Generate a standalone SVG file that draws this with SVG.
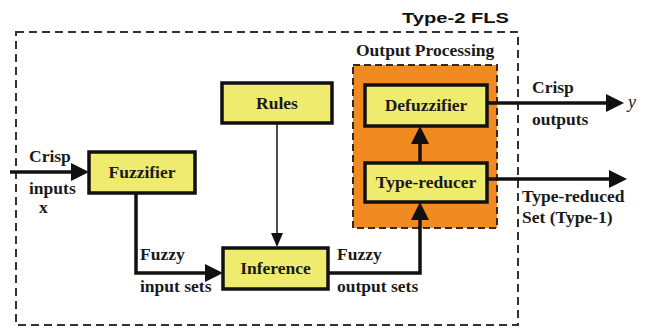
<svg xmlns="http://www.w3.org/2000/svg" width="646" height="328" viewBox="0 0 646 328">
  <style>
    .lbl { font-family: "Liberation Serif", "Times New Roman", serif; font-weight: bold; font-size: 17.5px; fill: #1a1a1a; }
    .box { fill: #efeb6f; stroke: #111; stroke-width: 3.5; }
    .wire { fill: none; stroke: #111; stroke-width: 3.5; }
    .thin { fill: none; stroke: #222; stroke-width: 1.6; }
    .frame { fill: none; stroke: #333; stroke-width: 2; stroke-dasharray: 8 5; }
  </style>
  <defs>
    <marker id="head" markerUnits="userSpaceOnUse" markerWidth="18" markerHeight="18" refX="2" refY="9" orient="auto">
      <path d="M0,0 L18,9 L0,18 z" fill="#111"/>
    </marker>
    <marker id="headSmall" markerUnits="userSpaceOnUse" markerWidth="14" markerHeight="12" refX="2" refY="6" orient="auto">
      <path d="M0,0 L14,6 L0,12 z" fill="#111"/>
    </marker>
  </defs>
  <rect width="646" height="328" fill="#ffffff"/>

  <!-- system boundary -->
  <rect class="frame" x="16" y="32" width="502" height="293"/>
  <text x="402" y="23" font-family="'Liberation Sans', Arial, sans-serif" font-weight="bold" font-size="15.5" textLength="107" lengthAdjust="spacingAndGlyphs" fill="#111">Type-2 FLS</text>

  <!-- output processing block -->
  <g id="output-processing">
    <rect x="353" y="65" width="144" height="163" fill="#f28a22" stroke="#3a2a1a" stroke-width="2" stroke-dasharray="7 4"/>
    <text class="lbl" x="356" y="56">Output Processing</text>
  </g>

  <!-- connectors -->
  <g id="connectors">
    <path class="wire" d="M10,172 L73,172" marker-end="url(#head)"/>
    <path class="wire" d="M136,193 L136,273 L207,273" marker-end="url(#head)"/>
    <path class="thin" d="M277,123 L277,235" marker-end="url(#headSmall)"/>
    <path class="wire" d="M327,273 L420,273 L420,218" marker-end="url(#head)"/>
    <path class="wire" d="M420,163 L420,142" marker-end="url(#head)"/>
    <path class="wire" d="M487,103 L608,103" marker-end="url(#head)"/>
    <path class="wire" d="M487,179 L611,179" marker-end="url(#head)"/>
  </g>

  <g id="fuzzifier">
    <rect class="box" x="89" y="152" width="106" height="41"/>
    <text class="lbl" x="142" y="178" text-anchor="middle">Fuzzifier</text>
  </g>
  <g id="rules">
    <rect class="box" x="222" y="83" width="110" height="40"/>
    <text class="lbl" x="277" y="109" text-anchor="middle">Rules</text>
  </g>
  <g id="inference">
    <rect class="box" x="223" y="248" width="105" height="41"/>
    <text class="lbl" x="275.5" y="274" text-anchor="middle">Inference</text>
  </g>
  <g id="defuzzifier">
    <rect class="box" x="365" y="85" width="122" height="41"/>
    <text class="lbl" x="426" y="111" text-anchor="middle">Defuzzifier</text>
  </g>
  <g id="type-reducer">
    <rect class="box" x="365" y="163" width="122" height="39"/>
    <text class="lbl" x="426" y="188" text-anchor="middle">Type-reducer</text>
  </g>

  <!-- signal labels -->
  <g id="labels">
    <text class="lbl" x="29" y="162">Crisp</text>
    <text class="lbl" x="29" y="194">inputs</text>
    <text class="lbl" x="39" y="213">x</text>
    <text class="lbl" x="140" y="260">Fuzzy</text>
    <text class="lbl" x="140" y="292">input sets</text>
    <text class="lbl" x="337" y="260">Fuzzy</text>
    <text class="lbl" x="337" y="292">output sets</text>
    <text class="lbl" x="532" y="93">Crisp</text>
    <text class="lbl" x="532" y="125">outputs</text>
    <text x="628" y="108" font-family="'Liberation Serif', 'Times New Roman', serif" font-style="italic" font-size="18" fill="#222">y</text>
    <text class="lbl" x="522" y="202">Type-reduced</text>
    <text class="lbl" x="522" y="223">Set (Type-1)</text>
  </g>
</svg>
